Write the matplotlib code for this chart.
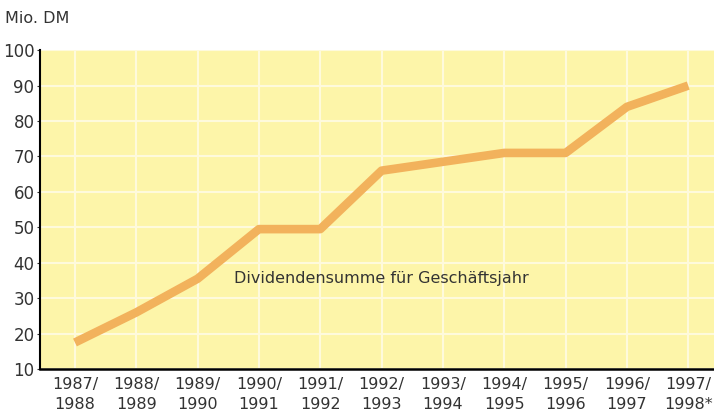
import matplotlib.pyplot as plt

years = ['1987/\n1988', '1988/\n1989', '1989/\n1990', '1990/\n1991', '1991/\n1992',
         '1992/\n1993', '1993/\n1994', '1994/\n1995', '1995/\n1996', '1996/\n1997',
         '1997/\n1998*']
dividends = [17.5, 26, 35.5, 49.5, 49.5, 66, 68.5, 71, 71, 84, 90]
y_ticks = [10, 20, 30, 40, 50, 60, 70, 80, 90, 100]

plt.rcParams['font.family'] = 'DejaVu Sans'

fig = plt.figure(figsize=(7.14, 4.18), dpi=100)
ax = fig.add_axes([0.056, 0.117, 0.944, 0.763])
ax.set_facecolor('#fdf5a9')

x = range(len(years))
ax.plot(x, dividends, color='#f2b25c', linewidth=6.2, solid_capstyle='butt', zorder=3)

ax.set_xlim(-0.57, 10.42)
ax.set_ylim(10, 100)
ax.set_yticks(y_ticks)
ax.set_xticks(list(x))
ax.set_xticklabels(years, fontsize=11.5, color='#333333', linespacing=1.35)
ax.tick_params(axis='y', labelsize=12, colors='#333333', length=2, pad=2)
ax.tick_params(axis='x', length=0, pad=6)
ax.grid(True, color='#fefadc', linewidth=1.5)
ax.set_axisbelow(True)

for s in ['top', 'right']:
    ax.spines[s].set_visible(False)
ax.spines['left'].set_linewidth(1.5)
ax.spines['bottom'].set_linewidth(1.8)

ax.text(5, 35.7, 'Dividendensumme für Geschäftsjahr', ha='center', va='center',
        fontsize=11.5, color='#333333')
fig.text(0.007, 0.955, 'Mio. DM', ha='left', va='center', fontsize=11.5, color='#333333')

fig.savefig('out.png', dpi=100)
